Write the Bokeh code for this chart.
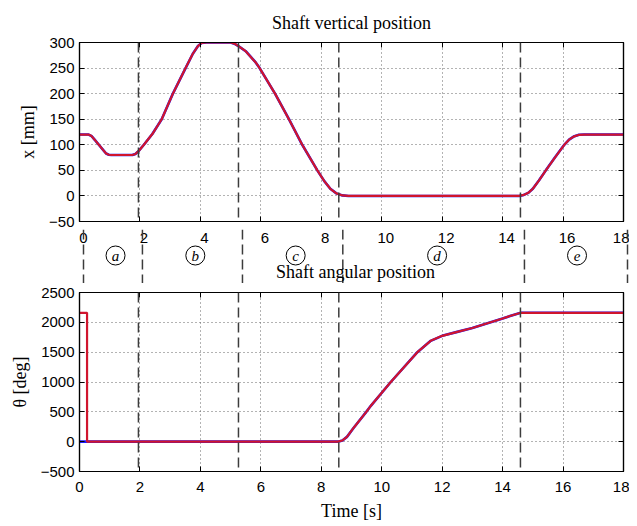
from bokeh.plotting import figure
from bokeh.layouts import column
from bokeh.models import LinearAxis, Label, FixedTicker, Range1d, Span
from bokeh.embed import file_html
from bokeh.resources import INLINE

# ---------------- data ----------------
t_pos = [0.0, 0.3, 0.4, 0.5, 0.64, 0.78, 0.88, 0.97, 1.05, 1.75, 1.85, 1.96, 2.13, 2.41,
         2.72, 3.09, 3.51, 3.75, 3.92, 4.04, 4.2, 5.0, 5.15, 5.26, 5.5, 5.83, 5.96, 6.47,
         6.93, 7.37, 7.87, 8.1, 8.3, 8.5, 8.7, 8.9, 14.55, 14.7, 14.85, 15.0, 15.2, 15.43,
         15.73, 16.04, 16.2, 16.35, 16.53, 16.7, 18.0]
x_pos = [120, 120, 117, 110, 100, 90, 83, 80.5, 80, 80, 82, 88, 100, 121,
         150, 200, 250, 278, 293, 299, 300, 300, 297, 293, 283, 261, 250, 200,
         150, 100, 50, 29, 14, 5, 1, 0, 0, 2, 6, 14, 30, 50,
         75, 100, 110, 116, 119.5, 120, 120]

t_ang = [0.0, 0.25, 0.25, 8.55, 8.7, 8.85, 9.08, 9.49, 9.64, 10.3, 11.18, 11.62, 12.0,
         12.5, 13.0, 13.5, 14.0, 14.3, 14.6, 18.0]
theta_ref = [0, 0, 0, 0, 20, 80, 238, 500, 601, 1000, 1500, 1690, 1774,
             1840, 1905, 1985, 2065, 2115, 2160, 2160]
theta_meas = [2160, 2160, 0, 0, 20, 80, 238, 500, 601, 1000, 1500, 1690, 1774,
              1840, 1905, 1985, 2065, 2115, 2160, 2160]

phase_bounds = [1.95, 5.26, 8.58, 14.59]
phase_edges = [0, 18]
phase_names = ["a", "b", "c", "d", "e"]
phase_name_t = [1.06, 3.70, 7.02, 11.70, 16.33]

x_ticks = list(range(0, 19, 2))
pos_ticks = list(range(-50, 301, 50))
ang_ticks = list(range(-500, 2501, 500))

SERIF = "Liberation Serif"
SANS = "Liberation Sans"
BLUE = "#1a1aff"
RED = "#d0152d"
DASH_COL = "#3c3c3c"
W_FRAME, H_FRAME = 544, 179
LEFT, RIGHT = 79, 6
H_GAP = 54
PAD = 4  # extra px on both sides of the gap frame so the edge lines show fully


def hidden_axis(ticks):
    return LinearAxis(ticker=FixedTicker(ticks=ticks), major_tick_in=5, major_tick_out=0,
                      minor_tick_line_color=None, major_label_text_font_size="1px",
                      major_label_text_color=None, major_label_standoff=0,
                      axis_line_color="black", axis_line_width=1.2,
                      major_tick_line_color="black")


def make_panel(title, y_range, yticks, ylabel, xlabel=None):
    p = figure(frame_width=W_FRAME, frame_height=H_FRAME, x_range=Range1d(0, 18),
               y_range=y_range, output_backend="svg", toolbar_location=None,
               min_border_left=LEFT, min_border_right=RIGHT,
               min_border_top=42 if title else 9, min_border_bottom=8 if xlabel is None else 10,
               x_axis_location=None, y_axis_location=None)
    if title:
        p.title.text = title
        p.title.text_font = SERIF
        p.title.text_font_size = "18px"
        p.title.text_font_style = "normal"
        p.title.align = "center"
        p.title.text_color = "black"
        p.title.standoff = 19
    p.outline_line_color = "black"
    p.outline_line_width = 1.2
    p.background_fill_color = "white"
    p.border_fill_color = "white"

    yax = LinearAxis(ticker=FixedTicker(ticks=yticks), major_tick_in=5, major_tick_out=0,
                     minor_tick_line_color=None, axis_line_color="black", axis_line_width=1.2,
                     major_tick_line_color="black", major_label_text_font=SANS,
                     major_label_text_font_size="15px", major_label_text_color="black",
                     major_label_standoff=5, axis_label=ylabel, axis_label_text_font=SERIF,
                     axis_label_text_font_size="18px", axis_label_text_font_style="normal",
                     axis_label_text_color="black", axis_label_standoff=8)
    p.add_layout(yax, "left")
    if xlabel is None:
        p.add_layout(hidden_axis(x_ticks), "below")
    else:
        xax = LinearAxis(ticker=FixedTicker(ticks=x_ticks), major_tick_in=5, major_tick_out=0,
                         minor_tick_line_color=None, axis_line_color="black",
                         axis_line_width=1.2, major_tick_line_color="black",
                         major_label_text_font=SANS, major_label_text_font_size="15px",
                         major_label_text_color="black", major_label_standoff=10,
                         axis_label=xlabel, axis_label_text_font=SERIF,
                         axis_label_text_font_size="18px", axis_label_text_font_style="normal",
                         axis_label_text_color="black", axis_label_standoff=6)
        p.add_layout(xax, "below")
    p.add_layout(hidden_axis(x_ticks), "above")
    p.add_layout(hidden_axis(yticks), "right")

    p.xgrid.ticker = FixedTicker(ticks=x_ticks)
    p.ygrid.ticker = FixedTicker(ticks=yticks)
    p.grid.grid_line_color = "#666666"
    p.grid.grid_line_dash = "1 3"
    p.grid.grid_line_width = 1
    for b in phase_bounds:
        p.add_layout(Span(location=b, dimension="height", line_color=DASH_COL,
                          line_width=1.5, line_dash="10 5"))
    return p


# ---------------- top: vertical position ----------------
top = make_panel("Shaft vertical position", Range1d(-50, 300), pos_ticks, "x [mm]")
top.line(t_pos, x_pos, line_color=BLUE, line_width=2.6)
top.line(t_pos, x_pos, line_color=RED, line_width=2.2)

# ---------------- gap: time tick labels, phase labels, lower title ----------------
d = PAD * 18.0 / W_FRAME
mid = figure(frame_width=W_FRAME + 2 * PAD, frame_height=H_GAP, x_range=Range1d(-d, 18 + d),
             y_range=Range1d(0, H_GAP), output_backend="svg", toolbar_location=None,
             min_border_left=LEFT - PAD, min_border_right=RIGHT - PAD, min_border_top=0,
             min_border_bottom=0, x_axis_location=None, y_axis_location=None)
mid.outline_line_color = None
mid.grid.visible = False
mid.background_fill_color = "white"
mid.border_fill_color = "white"
for b in phase_bounds + phase_edges:
    mid.add_layout(Span(location=b, dimension="height", line_color=DASH_COL,
                        line_width=1.5, line_dash="10 5"))
gap_axis = LinearAxis(ticker=FixedTicker(ticks=x_ticks), axis_line_color=None,
                      major_tick_line_color=None, minor_tick_line_color=None,
                      major_label_text_font=SANS, major_label_text_font_size="15px",
                      major_label_text_color="black", major_label_standoff=-19)
mid.add_layout(gap_axis, "above")
mid.scatter(phase_name_t, [28] * len(phase_name_t), marker="circle", size=19,
            fill_color="white", line_color="black", line_width=1)
mid.text(phase_name_t, [28] * len(phase_name_t), text=phase_names,
         text_font={"value": SERIF}, text_font_style="italic", text_font_size="15px",
         text_align="center", text_baseline="middle", text_color="black")
mid.add_layout(Label(x=9, y=12, text="Shaft angular position", text_font=SERIF,
                     text_font_size="18px", text_align="center", text_baseline="middle",
                     text_color="black", background_fill_color=None))

# ---------------- bottom: angular position ----------------
bot = make_panel(None, Range1d(-500, 2500), ang_ticks, "θ [deg]", xlabel="Time [s]")
bot.line(t_ang, theta_ref, line_color=BLUE, line_width=2.6)
bot.line(t_ang, theta_meas, line_color=RED, line_width=2.2)

p = column(top, mid, bot, spacing=0)
open("out.html", "w").write(file_html(p, INLINE))
